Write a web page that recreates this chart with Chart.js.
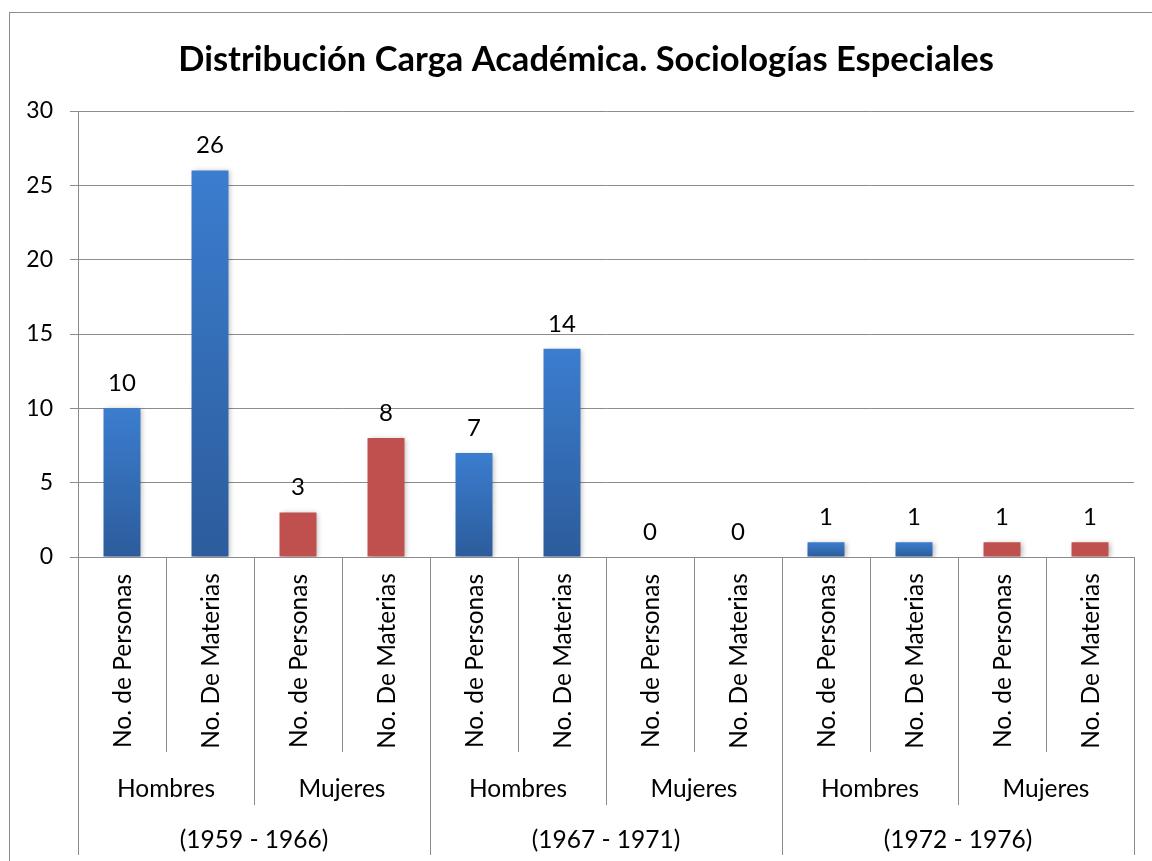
<!DOCTYPE html>
<html>
<head>
<meta charset="utf-8">
<script src="https://cdn.jsdelivr.net/npm/chart.js@4.4.1/dist/chart.umd.min.js"></script>
<style>
  body { margin: 0; background: #fff; }
  #wrap { width: 1152px; height: 861px; position: relative; }
</style>
</head>
<body>
<div id="wrap"><canvas id="chart"></canvas></div>
<script>
const titleText = 'Distribución Carga Académica. Sociologías Especiales'
const periods = ['(1959 - 1966)', '(1967 - 1971)', '(1972 - 1976)']
const genders = ['Hombres', 'Mujeres']
const measures = ['No. de Personas', 'No. De Materias']
const values = [10, 26, 3, 8, 7, 14, 0, 0, 1, 1, 1, 1]
const yTicks = [0, 5, 10, 15, 20, 25, 30]

const FONT = 'Lato, Calibri, sans-serif'
const GRID = '#8c8c8c'

// one category per bar: period > gender > measure
const labels = []
const barGender = []
periods.forEach(() => {
  genders.forEach((g, gi) => {
    measures.forEach(m => {
      labels.push(m)
      barGender.push(gi)
    })
  })
})

const barColor = (ctx) => {
  const i = ctx.dataIndex
  if (barGender[i] === 1) return '#c0504d'
  const chart = ctx.chart
  const y = chart.scales.y
  if (!chart.chartArea || !y) return '#3470b8'
  const top = y.getPixelForValue(values[i])
  const bottom = y.getPixelForValue(0)
  if (bottom - top < 1) return '#3a7ccc'
  const grad = chart.ctx.createLinearGradient(0, top, 0, bottom)
  grad.addColorStop(0, '#3b7dcf')
  grad.addColorStop(1, '#2c5c9b')
  return grad
}

const barShadow = {
  id: 'barShadow',
  beforeDatasetsDraw (chart) {
    const ctx = chart.ctx
    ctx.save()
    ctx.shadowColor = 'rgba(0,0,0,0.28)'
    ctx.shadowBlur = 5
    ctx.shadowOffsetX = 2
    ctx.shadowOffsetY = 1
  },
  afterDatasetsDraw (chart) {
    chart.ctx.restore()
  }
}

const valueLabels = {
  id: 'valueLabels',
  afterDraw (chart) {
    const ctx = chart.ctx
    const meta = chart.getDatasetMeta(0)
    ctx.save()
    ctx.font = '24px ' + FONT
    ctx.fillStyle = '#000'
    ctx.textAlign = 'center'
    ctx.textBaseline = 'middle'
    meta.data.forEach((bar, i) => {
      ctx.fillText(String(values[i]), bar.x, bar.y - 25)
    })
    ctx.restore()
  }
}

const groupAxis = {
  id: 'groupAxis',
  afterDraw (chart) {
    const ctx = chart.ctx
    const x = chart.scales.x
    const area = chart.chartArea
    const n = labels.length
    const bounds = [area.left]
    for (let i = 1; i < n; i++) {
      bounds.push((x.getPixelForValue(i - 1) + x.getPixelForValue(i)) / 2)
    }
    bounds.push(area.right)

    ctx.save()
    ctx.strokeStyle = GRID
    ctx.lineWidth = 1
    bounds.forEach((bx, i) => {
      let end = 752
      if (i % 4 === 0) end = 855
      else if (i % 2 === 0) end = 805
      const px = Math.round(bx) + 0.5
      ctx.beginPath()
      ctx.moveTo(px, area.bottom)
      ctx.lineTo(px, end)
      ctx.stroke()
    })

    ctx.fillStyle = '#000'
    ctx.textAlign = 'center'
    ctx.textBaseline = 'middle'
    ctx.font = '24.5px ' + FONT
    labels.forEach((lab, i) => {
      ctx.save()
      ctx.translate(x.getPixelForValue(i) + 1, 661)
      ctx.rotate(-Math.PI / 2)
      ctx.fillText(lab, 0, 0)
      ctx.restore()
    })

    for (let j = 0; j < n / 2; j++) {
      const cx = (bounds[2 * j] + bounds[2 * j + 2]) / 2
      ctx.fillText(genders[j % 2], cx, 789)
    }
    periods.forEach((p, k) => {
      const cx = (bounds[4 * k] + bounds[4 * k + 4]) / 2
      ctx.fillText(p, cx, 840)
    })

    // outer chart frame
    ctx.strokeStyle = GRID
    ctx.strokeRect(9.5, 12.5, 1200, 900)
    ctx.restore()
  }
}

new Chart(document.getElementById('chart'), {
  type: 'bar',
  data: {
    labels,
    datasets: [{
      data: values,
      backgroundColor: barColor,
      borderWidth: 0,
      barPercentage: 0.42,
      categoryPercentage: 1
    }]
  },
  options: {
    responsive: true,
    maintainAspectRatio: false,
    animation: false,
    layout: { padding: { left: 20, right: 0, top: 0, bottom: 0 } },
    plugins: {
      legend: { display: false },
      tooltip: { enabled: false },
      title: {
        display: true,
        text: titleText,
        color: '#000',
        font: { family: FONT, size: 34.5, weight: 'bold', lineHeight: 1.2 },
        padding: { top: 39, bottom: 30.6 }
      }
    },
    scales: {
      x: {
        grid: { display: false },
        border: { display: false },
        ticks: { display: false },
        afterFit: (scale) => { scale.height = 304 }
      },
      y: {
        min: 0,
        max: 30,
        afterBuildTicks: (scale) => { scale.ticks = yTicks.map(v => ({ value: v })) },
        grid: { color: GRID, tickLength: 8, drawTicks: true },
        border: { display: true, color: GRID },
        ticks: {
          color: '#000',
          padding: 17,
          font: { family: FONT, size: 23 }
        },
        afterFit: (scale) => { scale.width = 58 }
      },
      // empty right margin so the plot ends where the reference plot ends
      yRight: {
        position: 'right',
        grid: { display: false },
        border: { display: false },
        ticks: { display: false },
        afterFit: (scale) => { scale.width = 18 }
      }
    }
  },
  plugins: [barShadow, valueLabels, groupAxis]
})
</script>
</body>
</html>
